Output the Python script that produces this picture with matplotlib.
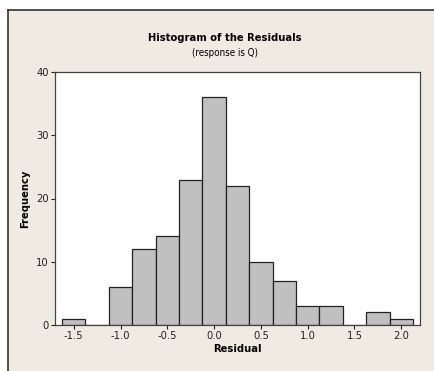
import matplotlib
matplotlib.use("Agg")
import matplotlib.pyplot as plt
from matplotlib.patches import Rectangle

plt.rcParams['font.family'] = ['DejaVu Sans']
plt.rcParams['font.stretch'] = 'condensed'

bin_centers = [-1.5, -1.25, -1.0, -0.75, -0.5, -0.25, 0.0, 0.25, 0.5, 0.75, 1.0, 1.25, 1.5, 1.75, 2.0]
counts = [1, 0, 6, 12, 14, 23, 36, 22, 10, 7, 3, 3, 0, 2, 1]
bin_width = 0.25
xticks = [-1.5, -1.0, -0.5, 0.0, 0.5, 1.0, 1.5, 2.0]
xtick_labels = ["-1.5", "-1.0", "-0.5", "0.0", "0.5", "1.0", "1.5", "2.0"]
yticks = [0, 10, 20, 30, 40]

W, H = 435, 371
fig = plt.figure(figsize=(W/100, H/100), dpi=100)
fig.patch.set_facecolor('white')
bg = Rectangle((8/W, 0), 1 - 8/W, 1 - 10/H, transform=fig.transFigure,
               facecolor='#efebe2', edgecolor='none', zorder=-10)
fig.patches.append(bg)
fig.add_artist(plt.Line2D([8/W, 8/W], [0, 1 - 10/H], color='#333333', lw=1.2, transform=fig.transFigure))
fig.add_artist(plt.Line2D([8/W, 1], [1 - 10/H, 1 - 10/H], color='#333333', lw=1.2, transform=fig.transFigure))

left, right, top, bottom = 55, 420, 72, 325
ax = fig.add_axes([left/W, 1 - bottom/H, (right-left)/W, (bottom-top)/H])
ax.set_facecolor('white')
ax.bar(bin_centers, counts, width=bin_width, color='#c0c0c0', edgecolor='#222222', linewidth=0.9)
ax.set_xlim(-1.70, 2.20)
ax.set_ylim(0, 40)
ax.set_xticks(xticks)
ax.set_xticklabels(xtick_labels)
ax.set_yticks(yticks)
ax.tick_params(direction='out', length=3, width=0.8, labelsize=8, pad=1.5, colors='#222222')
for s in ax.spines.values():
    s.set_color('#444444')
    s.set_linewidth(0.9)
ax.set_xlabel('Residual', fontsize=8, fontweight='bold', labelpad=2)
ax.set_ylabel('Frequency', fontsize=8, fontweight='bold', labelpad=4)

fig.text(225/W, 1 - 38/H, 'Histogram of the Residuals', ha='center', va='center', fontsize=8, fontweight='bold')
fig.text(225/W, 1 - 53/H, '(response is Q)', ha='center', va='center', fontsize=7)

fig.savefig('out.png', dpi=100, facecolor=fig.get_facecolor())
